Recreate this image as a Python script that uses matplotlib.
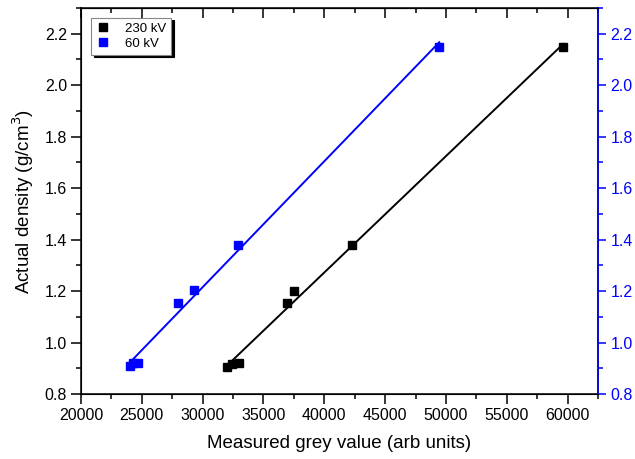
import numpy as np
import matplotlib
matplotlib.use("Agg")
import matplotlib.pyplot as plt
from matplotlib.ticker import MultipleLocator

plt.rcParams['font.family'] = ['Liberation Sans', 'DejaVu Sans']

# 230 kV data
grey_230 = [32000, 32400, 33000, 36900, 37550, 42300, 59650]
dens_230 = [0.905, 0.915, 0.922, 1.152, 1.202, 1.380, 2.149]
# 60 kV data
grey_60 = [24050, 24300, 24650, 27950, 29300, 32870, 49450]
dens_60 = [0.908, 0.920, 0.920, 1.152, 1.203, 1.380, 2.149]

xticks = [20000, 25000, 30000, 35000, 40000, 45000, 50000, 55000, 60000]
yticks = [0.8, 1.0, 1.2, 1.4, 1.6, 1.8, 2.0, 2.2]

fig = plt.figure(figsize=(6.35, 4.59), dpi=100)
ax = fig.add_axes([81/635, 1-394/459, (598-81)/635, (394-8)/459])

for gx, dy, col, lab in [(grey_230, dens_230, 'black', '230 kV'),
                         (grey_60, dens_60, 'blue', '60 kV')]:
    gx = np.array(gx, float); dy = np.array(dy, float)
    k, b = np.polyfit(gx, dy, 1)
    xs = np.array([gx.min(), gx.max()])
    ax.plot(xs, k*xs + b, color=col, lw=1.4, zorder=2)
    ax.plot(gx, dy, 's', color=col, ms=5.2, label=lab, zorder=3)

ax.set_xlim(20000, 62500)
ax.set_ylim(0.8, 2.3)
ax.set_xticks(xticks)
ax.set_xticklabels([str(v) for v in xticks])
ax.set_yticks(yticks)
ax.set_yticklabels([f"{v:.1f}" for v in yticks])
ax.xaxis.set_minor_locator(MultipleLocator(2500))
ax.yaxis.set_minor_locator(MultipleLocator(0.1))
ax.tick_params(axis='both', which='major', direction='out', length=7, width=1.1, labelsize=11.5, pad=3)
ax.tick_params(axis='both', which='minor', direction='out', length=3.5, width=1.1)
ax.tick_params(axis='y', which='both', right=False)
for s in ax.spines.values():
    s.set_linewidth(1.1)

# top ticks inward
secx = ax.secondary_xaxis('top')
secx.set_xticks(xticks)
secx.xaxis.set_minor_locator(MultipleLocator(2500))
secx.tick_params(which='major', direction='in', length=7, width=1.1, labeltop=False)
secx.tick_params(which='minor', direction='in', length=3.5, width=1.1)
secx.set_xticklabels([])
ax.tick_params(axis='x', which='both', top=False)

ax2 = ax.twinx()
ax2.set_ylim(0.8, 2.3)
ax2.set_yticks(yticks)
ax2.set_yticklabels([f"{v:.1f}" for v in yticks])
ax2.yaxis.set_minor_locator(MultipleLocator(0.1))
ax2.tick_params(axis='y', which='major', direction='out', length=6, width=1.1, colors='blue', labelsize=11.5, pad=3)
ax2.tick_params(axis='y', which='minor', direction='out', length=3.5, width=1.1, colors='blue')
ax2.spines['right'].set_color('blue')
ax2.spines['right'].set_linewidth(1.1)

ax.set_xlabel('Measured grey value (arb units)', fontsize=13.5, labelpad=9)
ax.set_ylabel('Actual density (g/cm$^3$)', fontsize=13.5, labelpad=6)

leg = ax.legend(loc='upper left', bbox_to_anchor=(0.02, 0.975), fontsize=9.5,
                frameon=True, fancybox=False, shadow={'color': 'black', 'alpha': 1.0},
                edgecolor='#888888', handlelength=1.0, handletextpad=1.2,
                borderpad=0.35, labelspacing=0.25, numpoints=1, borderaxespad=0)
leg.get_frame().set_linewidth(0.8)

fig.savefig('out.png', dpi=100)
